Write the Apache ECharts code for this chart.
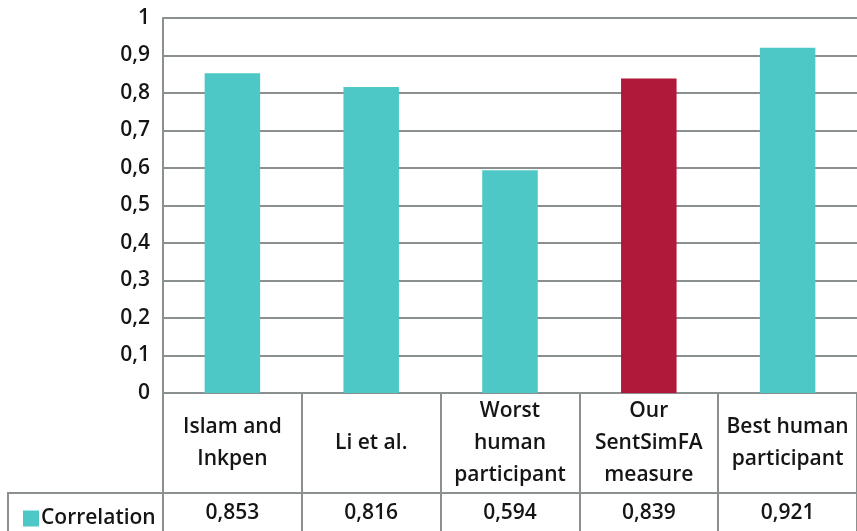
<!DOCTYPE html>
<html>
<head>
<meta charset="utf-8">
<script src="https://cdn.jsdelivr.net/npm/echarts@6/dist/echarts.min.js"></script>
<style>
html,body{margin:0;padding:0;background:#fff;}
#chart{width:857px;height:531px;}
</style>
</head>
<body>
<div id="chart"></div>
<script>
const categories = ['Islam and\nInkpen', 'Li et al.', 'Worst\nhuman\nparticipant', 'Our\nSentSimFA\nmeasure', 'Best human\nparticipant'];
const correlation = [0.853, 0.816, 0.594, 0.839, 0.921];
const seriesName = 'Correlation';
const highlightIndex = 3;
const yTicks = { min: 0, max: 1, interval: 0.1 };

const FONT = '"Open Sans", sans-serif';
const FW = 600;
const FS = 21;
const TXT = '#151515';
const GRID = '#8a8f8f';
const TEAL = '#4ec8c7';
const RED = '#b01939';

function fmt(v) { return String(v).replace('.', ','); }

const chart = echarts.init(document.getElementById('chart'), null, { renderer: 'canvas' });
chart.setOption({
  animation: false,
  backgroundColor: '#ffffff',
  textStyle: { fontFamily: FONT },
  grid: { left: 163, top: 18, width: 704, height: 375 },
  legend: {
    left: 18, top: 503, itemWidth: 16, itemHeight: 16, icon: 'rect', itemGap: 4,
    data: [seriesName],
    textStyle: { fontFamily: FONT, fontWeight: FW, fontSize: FS, color: TXT, padding: [0, 0, 0, -3] }
  },
  xAxis: [
    {
      type: 'category', data: categories, position: 'bottom',
      axisLine: { show: true, lineStyle: { color: GRID, width: 2 } },
      axisTick: { show: true, interval: 0, length: 100, lineStyle: { color: GRID, width: 2 } },
      axisLabel: {
        interval: 0, margin: 50, verticalAlign: 'middle', align: 'center',
        fontFamily: FONT, fontWeight: FW, fontSize: FS, lineHeight: 32, color: TXT
      }
    },
    {
      type: 'category', data: categories, position: 'bottom', offset: 100,
      axisLine: { show: true, lineStyle: { color: GRID, width: 2 } },
      axisTick: { show: true, interval: 0, length: 45, lineStyle: { color: GRID, width: 2 } },
      axisLabel: {
        interval: 0, margin: 20, verticalAlign: 'middle', align: 'center',
        fontFamily: FONT, fontWeight: FW, fontSize: FS, color: TXT,
        formatter: function (v, i) { return fmt(correlation[i]); }
      }
    }
  ],
  yAxis: {
    type: 'value', min: yTicks.min, max: yTicks.max, interval: yTicks.interval,
    axisLine: { show: true, lineStyle: { color: GRID, width: 2 } },
    axisTick: { show: false },
    splitLine: { show: true, lineStyle: { color: GRID, width: 2 } },
    axisLabel: {
      margin: 13, fontFamily: FONT, fontWeight: FW, fontSize: FS, color: TXT,
      formatter: function (v) { return fmt(Math.round(v * 10) / 10); }
    }
  },
  series: [{
    name: seriesName, type: 'bar', xAxisIndex: 0, barWidth: '40%',
    itemStyle: { color: TEAL },
    data: correlation.map(function (v, i) {
      return i === highlightIndex ? { value: v, itemStyle: { color: RED } } : v;
    })
  }],
  graphic: [{
    type: 'polyline', silent: true,
    shape: { points: [[8, 540], [8, 493], [163, 493]] },
    style: { stroke: GRID, lineWidth: 2, fill: null }
  }]
});
</script>
</body>
</html>
